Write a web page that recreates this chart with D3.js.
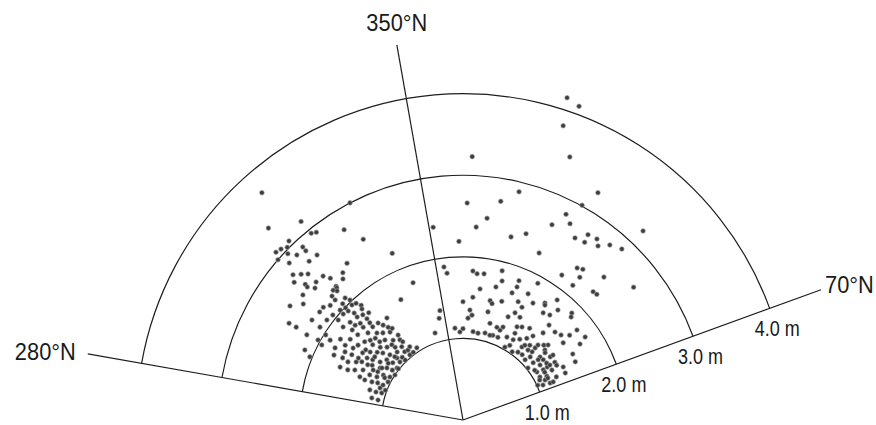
<!DOCTYPE html>
<html>
<head>
<meta charset="utf-8">
<script src="https://cdn.jsdelivr.net/npm/d3@7"></script>
<style>
  html, body { margin: 0; padding: 0; background: #fff; }
  svg { display: block; }
  text { font-family: "Liberation Sans", Arial, sans-serif; fill: #1a1a1a; }
</style>
</head>
<body>
<svg id="chart" width="876" height="425"></svg>
<script>
// ---- data ----
const spokeBearings = [280, 350, 70];
const spokeLabels = ["280°N", "350°N", "70°N"];
const ringDistances = [1, 2, 3, 4];
const ringLabels = ["1.0 m", "2.0 m", "3.0 m", "4.0 m"];
const maxDistance = 4.67;

// [bearing °N, distance m] west of the 350° spoke
const westPoints = [
  [318.5,3.72],[314.6,3.35],[320.8,3.14],[320.9,2.95],[322,2.92],[328,2.75],[331.1,2.53],[315.8,3.06],[314.5,3.02],[313.2,3.06],
  [311.9,3.08],[317.2,2.89],[317.1,2.83],[313.5,2.96],[314.8,2.87],[318.5,2.70],[310.9,3.00],[315.9,2.71],[312.1,2.87],[323.5,2.39],
  [310.5,2.74],[312,2.67],[313.3,2.61],[315.8,2.46],[316.9,2.38],[320.8,2.33],[319.6,2.27],[309.2,2.67],[310.7,2.55],[310.5,2.51],
  [313.2,2.47],[311.7,2.43],[316.5,2.26],[316.3,2.24],[315,2.25],[308,2.49],[332.5,3.00],[351.2,2.39],[337,2.22],[340,1.79],
  [332.7,1.66],[352.9,1.89],[303.4,2.54],[306,2.42],[299.1,2.44],[299.1,2.34],[303.5,2.22],[303,2.09],[353.8,1.81],
  [315.7,2.21],[313.4,2.21],[313.2,2.15],[310.8,2.15],[314,2.05],[313.7,1.99],[313.5,1.94],[311.5,1.96],[316,1.96],[317.5,1.94],
  [318.4,1.88],[317.7,1.84],[314.5,1.87],[314.2,1.81],[310.9,1.83],[316.4,1.78],[318.7,1.75],[316.5,1.71],[313.3,1.73],[312.9,1.67],
  [316.2,1.65],[315.9,1.59],[318.8,1.58],[319.9,1.52],[323.3,1.56],[321.1,1.46],[315.3,1.50],[317.4,1.45],[320.3,1.40],[322.6,1.31],
  [321.8,1.25],[318.8,1.30],[315.7,1.37],[313.2,1.40],[310.7,1.50],[308.5,1.54],[309.8,1.44],[313.8,1.29],[317,1.22],[319.5,1.10],
  [321.8,1.09],[327.4,1.05],[315.9,1.07],[313.2,1.11],[311.7,1.20],[309.9,1.28],[308.3,1.34],[306.2,1.41],[303.8,1.48],[302.9,1.40],
  [303.7,1.33],[305,1.24],[308.3,1.19],[309.2,1.11],[312.6,1.05],[316,1.02],[308.2,1.03],[305.2,1.06],[304.4,1.13],[302.1,1.20],
  [299.1,1.26],[300.1,1.35],[299.9,1.43],[300.6,1.49],[296.6,1.37],[295.8,1.27],[296.6,1.18],[299.4,1.12],[300.5,1.04],[303.5,1.00],
  [296.9,1.03],[293.6,1.07],[293.5,1.14],[292.7,1.21],[292.2,1.30],[291,1.02],[291.1,1.09],[283.6,1.15],[283.2,1.07],[303.4,1.80],
  [305.6,1.70],[299.4,1.80],[302.4,1.71],[303.2,1.61],[296.7,1.77],[293.3,1.64],[296.8,1.58],[294.8,1.46],[348.1,1.37],[346.8,1.28],
  [342.2,1.12],[355,1.13],[308.9,2.20],[306.3,2.07],[307,2.20],[293.9,2.12],[292.4,2.03],[298,1.96],[298.6,2.18],[298.9,2.03],
  [358,1.08],[358.7,2.19],
  [316.6,1.27],[315.9,1.16],[320.1,1.17],[320.8,1.03],[308.4,1.01],[298.3,1.09],[299.5,1.20],[301.1,1.30],[305.8,1.47],[305.5,1.58],
  [300.4,1.58],[300,1.67],[307.8,1.86],[308.7,1.96],[308.9,2.05],[316.7,2.02],[316,2.08],[311.8,2.02],[311.3,1.76],[313,1.47],
  [311.3,1.35],[322.3,1.42],[322.4,1.21],[288.4,1.05],[287.8,1.12],[287.9,1.20],[292.7,1.37],[298.5,1.49],[293.5,1.54],[297.3,1.66],
  [301,1.90],[301.8,1.98],[312.5,1.58],[309,1.66],[309.1,1.75],[312.8,1.14],[307.2,1.15],[305.6,1.33],[302.7,1.18],[324,1.11],
  [323.7,1.03]
];

// [bearing °N, distance m] east of the 350° spoke
const eastPoints = [
  [24.5,2.25],[3.8,1.83],[5.5,1.80],[8.2,1.81],[14.7,1.89],[15.7,1.77],[21.9,1.84],[28.7,1.91],[13.9,1.68],[22.1,1.76],
  [7.4,1.62],[0,1.45],[4.6,1.51],[12.8,1.50],[14,1.47],[18.1,1.53],[21.1,1.67],[27.3,1.74],[25,1.60],[27.6,1.56],
  [30.9,1.67],[35,1.75],[3.6,1.35],[4.9,1.29],[2.8,1.25],[13,1.36],[23.6,1.38],[25.9,1.46],[29,1.44],[36.8,1.64],
  [15.6,1.23],[20.1,1.21],[23.3,1.24],[30.1,1.32],[32.4,1.35],[36,1.39],[0,1.12],[6.5,1.09],[9.8,1.08],[14.2,1.10],
  [22.9,1.10],[27.9,1.15],[30.9,1.24],[32,1.16],[35.1,1.21],[38,1.27],[39.8,1.34],[42.6,1.45],[29.9,1.03],[35.8,1.03],
  [38.9,1.15],[42.9,1.17],[45,1.25],[50.7,1.22],[46.8,1.13],[45.9,1.06],[50.8,1.11],[54.5,1.16],[53.1,1.23],[51.3,1.02],
  [57,1.08],[57.8,1.22],[60.8,1.08],[62.4,1.16],[49.5,1.32],[54.1,1.32],[48.6,1.39],[60.7,1.25],[57.8,1.33],[64,1.12],
  [65,1.01],[67,1.16],[65.2,1.26],
  [29,3.01],[26.6,2.82],[24.5,2.63],[28.6,2.74],[43.6,3.20],[31.6,2.62],[34,2.74],[34.4,2.64],[36.5,2.76],[37.8,2.70],
  [40,2.80],[42.9,2.86],[34.3,2.15],[36.9,2.33],[38.5,2.36],[39.3,2.26],[44.6,2.46],[39.2,2.13],[45.4,2.24],[46.8,2.25],
  [52.1,2.65],[35.5,1.73],[38.1,1.87],[40.8,1.78],[39.6,1.67],[45.5,1.87],[46.4,1.83],[42.2,1.57],[46.3,1.56],[49.1,1.59],
  [51.5,1.67],[51.7,1.78],[55.8,1.81],[57,1.71],[52.4,1.55],[59,1.57],[62.6,1.55],[47.2,1.35],[50.7,1.30],[55.8,1.24],
  [59.7,1.33],[62.1,1.39],[65.3,1.38],[67.1,1.20],[58,1.16],[62.5,1.06],
  [17.9,4.15],[20.3,4.10],[18.8,3.81],[2,3.23],[22.1,3.48],[30.7,3.24],[13.8,2.88],[9.8,2.72],[1.1,2.66],[6.8,2.49],
  [3.9,2.37],[14.7,2.32],[18.7,2.41],[19.4,1.10],
  [39.6,1.19],[45.4,1.19],[45,1.30],[39,1.07],[42.2,1.08],[55.2,1.07],[59.7,1.16],[66.4,1.07],[63.7,1.16],[41.8,1.23],
  [32.1,1.08],[54.2,1.36],[51.3,1.18],[57.7,1.26],[22.4,1.19],[17.6,1.09]
];

// ---- layout ----
const svg = d3.select("#chart");
const cx = 463, cy = 420;
const lineColor = "#1e1e1e";

// bearing (°N, clockwise) -> radians; west bearings wrap to negative so the sector is continuous
const toSigned = b => (b > 180 ? b - 360 : b);
const angle = d3.scaleLinear().domain([-180, 180]).range([-Math.PI, Math.PI]);
const radius = d3.scaleLinear().domain([0, maxDistance]).range([0, 381]);

const g = svg.append("g").attr("transform", `translate(${cx},${cy})`);

const a0 = angle(toSigned(spokeBearings[0]));
const a1 = angle(toSigned(spokeBearings[2]));

// rings
g.selectAll("path.ring").data(ringDistances).join("path")
  .attr("class", "ring")
  .attr("d", d => {
    const p = d3.path();
    p.arc(0, 0, radius(d), a0 - Math.PI / 2, a1 - Math.PI / 2, false);
    return p.toString();
  })
  .attr("fill", "none").attr("stroke", lineColor).attr("stroke-width", 1.2);

// spokes
g.selectAll("line.spoke").data(spokeBearings).join("line")
  .attr("class", "spoke")
  .attr("x1", 0).attr("y1", 0)
  .attr("x2", d => d3.pointRadial(angle(toSigned(d)), radius(maxDistance))[0])
  .attr("y2", d => d3.pointRadial(angle(toSigned(d)), radius(maxDistance))[1])
  .attr("stroke", lineColor).attr("stroke-width", 1.2);

// points
const allPoints = westPoints.concat(eastPoints);
g.selectAll("circle.pt").data(allPoints).join("circle")
  .attr("class", "pt")
  .attr("cx", d => d3.pointRadial(angle(toSigned(d[0])), radius(d[1]))[0])
  .attr("cy", d => d3.pointRadial(angle(toSigned(d[0])), radius(d[1]))[1])
  .attr("r", 2.3)
  .attr("fill", "#3c3c3c")
  .attr("stroke", "#9a9a9a")
  .attr("stroke-width", 0.7);

// spoke labels
const spokeLabelStyle = [
  { dx: -12, dy: 6, anchor: "end" },
  { dx: 0, dy: -14, anchor: "middle" },
  { dx: 4, dy: 3, anchor: "start" }
];
g.selectAll("text.spoke-label").data(spokeBearings).join("text")
  .attr("class", "spoke-label")
  .attr("transform", (d, i) => {
    const [x, y] = d3.pointRadial(angle(toSigned(d)), radius(maxDistance));
    return `translate(${x + spokeLabelStyle[i].dx},${y + spokeLabelStyle[i].dy}) scale(0.95,1)`;
  })
  .attr("text-anchor", (d, i) => spokeLabelStyle[i].anchor)
  .attr("font-size", 23)
  .text((d, i) => spokeLabels[i]);

// ring labels along the 70° spoke
g.selectAll("text.ring-label").data(ringDistances).join("text")
  .attr("class", "ring-label")
  .attr("transform", d => {
    const [x, y] = d3.pointRadial(a1, radius(d));
    return `translate(${x - 15},${y + 28}) scale(0.82,1)`;
  })
  .attr("font-size", 22)
  .text((d, i) => ringLabels[i]);
</script>
</body>
</html>
